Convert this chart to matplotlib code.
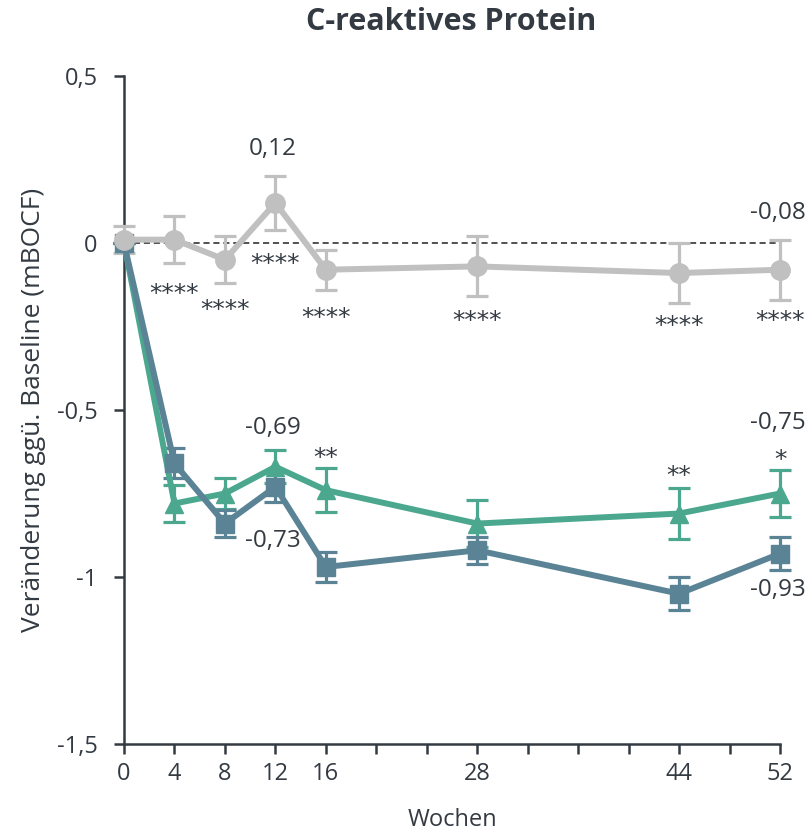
import matplotlib

matplotlib.use("Agg")
import matplotlib.pyplot as plt

plt.rcParams["font.family"] = ["Open Sans", "DejaVu Sans"]

weeks = [0, 4, 8, 12, 16, 28, 44, 52]

placebo = [0.01, 0.01, -0.05, 0.12, -0.08, -0.07, -0.09, -0.08]
placebo_err = [0.04, 0.07, 0.07, 0.08, 0.06, 0.09, 0.09, 0.09]

teal = [0.0, -0.78, -0.75, -0.67, -0.74, -0.84, -0.81, -0.75]
teal_err = [0.0, 0.055, 0.045, 0.05, 0.065, 0.07, 0.075, 0.07]

blue = [0.0, -0.66, -0.84, -0.73, -0.97, -0.92, -1.05, -0.93]
blue_err = [0.0, 0.045, 0.04, 0.045, 0.045, 0.04, 0.05, 0.05]

tick_weeks = list(range(0, 53, 4))
tick_labels = [str(w) if w in weeks else "" for w in tick_weeks]

# significance marks (x, y, text)
stars_grey = [(4, -0.13, "****"), (8, -0.177, "****"), (12, -0.04, "****"),
              (16, -0.2, "****"), (28, -0.21, "****"), (44, -0.225, "****"),
              (52, -0.21, "****")]
stars_teal = [(16, -0.62, "**"), (44, -0.675, "**"), (52, -0.625, "*")]
value_labels = [(11.8, 0.28, "0,12"), (51.8, 0.09, "-0,08"),
                (11.8, -0.555, "-0,69"), (11.8, -0.892, "-0,73"),
                (51.8, -0.54, "-0,75"), (51.8, -1.04, "-0,93")]

GREY = "#c0c0c0"
TEAL = "#4ba88f"
BLUE = "#5a8496"
TXT = "#343a42"

fig = plt.figure(figsize=(8.08, 8.33), dpi=100)
ax = fig.add_axes([124 / 808, 89 / 833, 656 / 808, 668 / 833])

ax.axhline(0, color="#222222", lw=1.1, ls=(0, (4, 2.5)), zorder=1)

common = dict(lw=4.3, elinewidth=2.3, capsize=8, capthick=2.3, clip_on=False)
for err, y, c, m, ms in ((teal_err, teal, TEAL, "^", 13),
                         (blue_err, blue, BLUE, "s", 12.5),
                         (placebo_err, placebo, GREY, "o", 14)):
    eb = ax.errorbar(weeks, y, yerr=err, color=c, marker=m, markersize=ms,
                     zorder=3, **common)
    for art in eb.lines[1] + eb.lines[2]:
        art.set_clip_on(False)

STAR_FS = 18
for x, y, t in stars_grey + stars_teal:
    ax.annotate(t, (x, y), xytext=(0, -0.6 * STAR_FS), textcoords="offset points",
                ha="center", va="baseline", fontsize=STAR_FS, color=TXT,
                family="DejaVu Sans")
for x, y, t in value_labels:
    ax.text(x, y, t, ha="center", va="center", fontsize=17.5, color=TXT)

ax.set_xlim(0, 52)
ax.set_ylim(-1.5, 0.5)
ax.set_xticks(tick_weeks, tick_labels)
ax.set_yticks([0.5, 0, -0.5, -1, -1.5], ["0,5", "0", "-0,5", "-1", "-1,5"])
ax.tick_params(axis="both", direction="out", length=7, width=1.8,
               colors="#343a42", labelsize=17)
ax.tick_params(axis="y", pad=12)
ax.tick_params(axis="x", pad=6)
for side in ("top", "right"):
    ax.spines[side].set_visible(False)
for side in ("left", "bottom"):
    ax.spines[side].set_color("#343a42")
    ax.spines[side].set_linewidth(1.8)

ax.set_xlabel("Wochen", fontsize=17, color=TXT, labelpad=16)
ax.set_ylabel("Veränderung ggü. Baseline (mBOCF)", fontsize=19, color=TXT,
              labelpad=8)
fig.text(451 / 808, 1 - 22 / 833, "C-reaktives Protein", ha="center",
         va="center", fontsize=22, fontweight="bold", color=TXT)

fig.savefig("out.png", dpi=100)
